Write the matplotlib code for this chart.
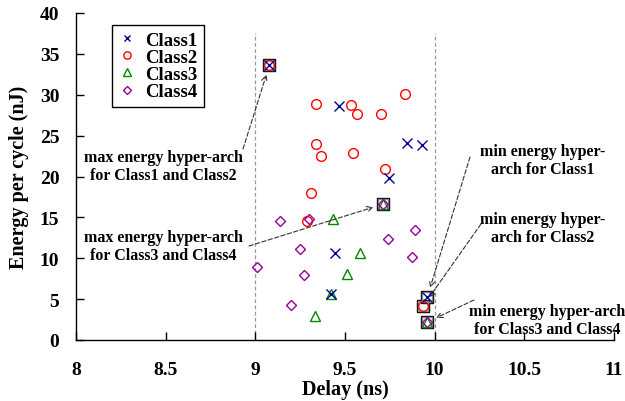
import matplotlib
matplotlib.use("Agg")
import matplotlib.pyplot as plt

# ---- data ----
class1_delay = [9.078, 9.467, 9.846, 9.930, 9.746, 9.445, 9.420, 9.959]
class1_energy = [33.6, 28.6, 24.1, 23.9, 19.8, 10.7, 5.67, 5.26]

class2_delay = [9.078, 9.340, 9.534, 9.567, 9.703, 9.837, 9.340, 9.368, 9.547, 9.725, 9.309, 9.288, 9.937]
class2_energy = [33.6, 28.9, 28.7, 27.7, 27.6, 30.1, 24.0, 22.5, 22.9, 20.9, 18.0, 14.5, 4.2]

class3_delay = [9.710, 9.433, 9.582, 9.513, 9.420, 9.335, 9.959]
class3_energy = [16.6, 14.85, 10.6, 8.1, 5.67, 2.9, 2.2]

class4_delay = [9.710, 9.136, 9.300, 9.893, 9.737, 9.251, 9.874, 9.011, 9.270, 9.199, 9.959]
class4_energy = [16.6, 14.5, 14.8, 13.5, 12.4, 11.1, 10.2, 8.9, 7.9, 4.3, 2.2]

# highlighted hyper-arch points (max C1/C2, max C3/C4, min C1, min C2, min C3/C4)
boxed_delay = [9.078, 9.710, 9.959, 9.937, 9.959]
boxed_energy = [33.6, 16.6, 5.26, 4.2, 2.2]

annot_texts = ["max energy hyper-arch\nfor Class1 and Class2",
               "max energy hyper-arch\nfor Class3 and Class4",
               "min energy hyper-\narch for Class1",
               "min energy hyper-\narch for Class2",
               "min energy hyper-arch\nfor Class3 and Class4"]

bound_delays = [9, 10]
bound_top = 37.6

x_ticks = [8, 8.5, 9, 9.5, 10, 10.5, 11]
x_ticklabels = ["8", "8.5", "9", "9.5", "10", "10.5", "11"]
y_ticks = [0, 5, 10, 15, 20, 25, 30, 35, 40]

W, H = 625, 402
plt.rcParams['font.family'] = ['Liberation Serif', 'DejaVu Serif']
plt.rcParams['font.weight'] = 'bold'

fig = plt.figure(figsize=(W / 100, H / 100), dpi=100)
ax = fig.add_axes([76 / W, (H - 341) / H, (614 - 76) / W, (341 - 14) / H])
ax.set_xlim(8, 11)
ax.set_ylim(0, 40)

ax.vlines(bound_delays, 0, bound_top, colors='#999999', linestyles=(0, (3, 2)), lw=0.9, zorder=1)

# boxes
ax.plot(boxed_delay, boxed_energy, ls='none', marker='s', ms=8.6, mfc='none', mec='black', mew=1.0, zorder=2)
ax.plot(boxed_delay, boxed_energy, ls='none', marker='s', ms=7.0, mfc='none', mec='#888888', mew=1.0, zorder=2)

c1, c2, c3, c4 = '#000099', '#ff0000', '#008800', '#990099'
ax.plot(class1_delay, class1_energy, ls='none', marker='x', ms=6.5, mec=c1, mew=1.0, label='Class1', zorder=4)
ax.plot(class2_delay, class2_energy, ls='none', marker='o', ms=7, mfc='none', mec=c2, mew=1.0, label='Class2', zorder=3)
ax.plot(class3_delay, class3_energy, ls='none', marker='^', ms=7, mfc='none', mec=c3, mew=1.0, label='Class3', zorder=3)
ax.plot(class4_delay, class4_energy, ls='none', marker='D', ms=5, mfc='none', mec=c4, mew=1.0, label='Class4', zorder=3)

# annotations (text block centres and arrow starts in figure pixels, top-left origin)
text_pos = [(163, 167), (163, 247), (543, 161), (543, 229), (547, 321)]
arrow_start = [(243, 150), (249, 247), (470, 158), (481, 225), (474, 301)]
for t, (tx, ty), (sx, sy), bx, by in zip(annot_texts, text_pos, arrow_start, boxed_delay, boxed_energy):
    fig.text(tx / W, 1 - ty / H, t, ha='center', va='center', fontsize=11.5,
             fontweight='bold', linespacing=1.1)
    ax.annotate('', xy=(bx, by), xytext=(sx, H - sy), textcoords='figure pixels',
                arrowprops=dict(arrowstyle='->', linestyle=(0, (4, 2)), color='#333333', lw=0.8,
                                shrinkA=0, shrinkB=7, mutation_scale=10))

ax.spines['top'].set_visible(False)
ax.spines['right'].set_visible(False)
ax.spines['left'].set_linewidth(1.0)
ax.spines['bottom'].set_linewidth(1.0)

ax.set_xticks(x_ticks)
ax.set_xticklabels(x_ticklabels)
ax.set_yticks(y_ticks)
ax.tick_params(direction='in', length=6, width=1.0, labelsize=14)
ax.tick_params(axis='x', pad=15)
ax.tick_params(axis='y', pad=12)
for lab in ax.get_xticklabels() + ax.get_yticklabels():
    lab.set_fontweight('bold')

ax.set_xlabel('Delay (ns)', fontsize=14.5, fontweight='bold', labelpad=1)
ax.set_ylabel('Energy per cycle (nJ)', fontsize=14.5, fontweight='bold', labelpad=8)

leg = ax.legend(loc='upper left', bbox_to_anchor=((112 - 76) / (614 - 76), 1 - (26 - 14) / (341 - 14)),
                frameon=True, fancybox=False, edgecolor='black', framealpha=1,
                prop={'family': 'Liberation Serif', 'weight': 'bold', 'size': 13.5},
                handlelength=0.9, handletextpad=0.5, labelspacing=0.0, borderpad=0.35,
                borderaxespad=0, markerscale=0.75)
leg.get_frame().set_linewidth(1.0)

fig.savefig('out.png', dpi=100)
